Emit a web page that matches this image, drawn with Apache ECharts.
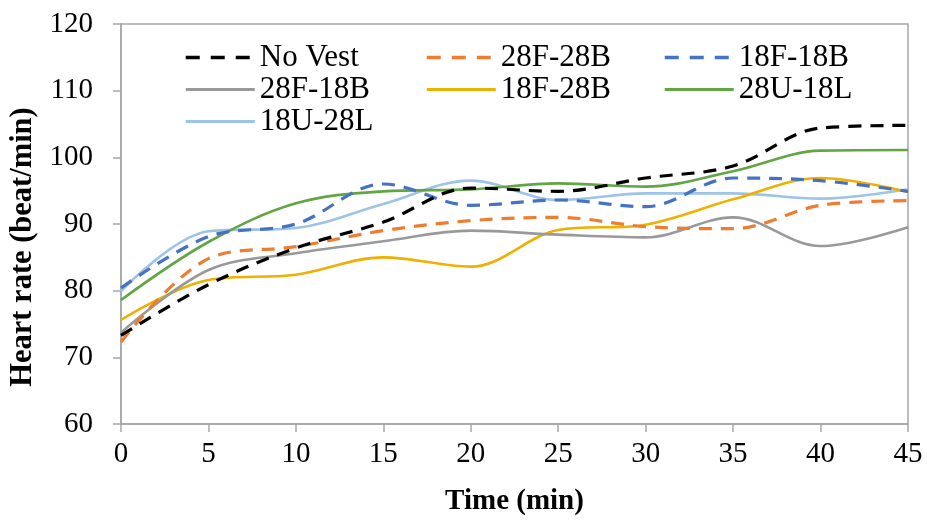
<!DOCTYPE html>
<html>
<head>
<meta charset="utf-8">
<script src="https://cdn.jsdelivr.net/npm/echarts@6/dist/echarts.min.js"></script>
<style>html,body{margin:0;padding:0;background:#fff;}#c{width:927px;height:520px;}</style>
</head>
<body>
<div id="c"></div>
<script>
var times = [0, 5, 10, 15, 20, 25, 30, 35, 40, 45];
var noVest = [73.3, 80.9, 86.4, 90.3, 95.4, 94.9, 96.9, 98.7, 104.4, 104.8];
var f28b28 = [72.3, 84.8, 86.6, 89.0, 90.5, 91.0, 89.6, 89.3, 92.8, 93.5];
var f18b18 = [80.4, 88.1, 90.0, 96.0, 92.8, 93.6, 92.6, 96.9, 96.5, 94.9];
var f28b18 = [73.7, 83.1, 85.6, 87.4, 89.0, 88.4, 88.0, 91.0, 86.7, 89.5];
var f18b28 = [75.6, 81.6, 82.4, 85.0, 83.6, 89.1, 89.9, 93.7, 96.9, 94.8];
var u28l18 = [78.6, 87.3, 93.1, 94.9, 95.2, 96.1, 95.6, 97.9, 101.0, 101.1];
var u18l28 = [79.9, 88.9, 89.4, 93.0, 96.5, 93.6, 94.6, 94.6, 93.8, 95.2];
var seriesNames = ['No Vest', '28F-28B', '18F-18B', '28F-18B', '18F-28B', '28U-18L', '18U-28L'];
var yTicks = [60, 70, 80, 90, 100, 110, 120];

var values = [noVest, f28b28, f18b18, f28b18, f18b28, u28l18, u18l28];
var colors = ['#000000', '#ED7D31', '#4472C4', '#999999', '#F0B000', '#62A544', '#9DC3E6'];
var dashed = [true, true, true, false, false, false, false];

function pairs(v) { return times.map(function (t, i) { return [t, v[i]]; }); }
function lw(i) { return dashed[i] ? 3.2 : 2.6; }

var font = '"Liberation Serif", "Times New Roman", serif';
var series = values.map(function (v, i) {
  return {
    name: seriesNames[i],
    type: 'line',
    data: pairs(v),
    smooth: 0.35,
    showSymbol: false,
    symbol: 'none',
    z: 10 - i,
    lineStyle: { color: colors[i], width: lw(i), type: dashed[i] ? [13, 9] : 'solid', cap: 'butt' },
    itemStyle: { color: colors[i] }
  };
});

function legend(idx, left) {
  return {
    orient: 'vertical', left: left, top: 37, itemWidth: 69, itemHeight: 14, itemGap: 1,
    data: idx.map(function (i) {
      return { name: seriesNames[i], lineStyle: { width: lw(i) + 0.3, type: dashed[i] ? [14, 11] : 'solid', cap: 'butt' } };
    }),
    itemStyle: { opacity: 0 },
    textStyle: { fontFamily: font, fontSize: 31, color: '#000', lineHeight: 31 }
  };
}

var chart = echarts.init(document.getElementById('c'), null, { renderer: 'canvas' });
chart.setOption({
  animation: false,
  backgroundColor: '#fff',
  grid: { left: 121, right: 19, top: 24, bottom: 96, show: true, borderColor: '#A6A6A6', borderWidth: 1.5,
          containLabel: false, outerBoundsMode: 'none' },
  legend: [
    legend([0, 3, 6], 179),
    legend([1, 4], 420),
    legend([2, 5], 658)
  ],
  xAxis: {
    type: 'value', min: 0, max: 45, interval: 5,
    name: 'Time (min)', nameLocation: 'middle', nameGap: 63,
    nameTextStyle: { fontFamily: font, fontSize: 29, fontWeight: 'bold', color: '#000' },
    axisLine: { show: true, lineStyle: { color: '#A6A6A6', width: 1.5 } },
    axisTick: { show: true, length: 8, lineStyle: { color: '#A6A6A6', width: 1.5 } },
    axisLabel: { fontFamily: font, fontSize: 29, color: '#000', margin: 16 },
    splitLine: { show: false }
  },
  yAxis: {
    type: 'value', min: 60, max: 120, interval: 10,
    name: 'Heart rate (beat/min)', nameLocation: 'middle', nameGap: 80,
    nameTextStyle: { fontFamily: font, fontSize: 30.5, fontWeight: 'bold', color: '#000', padding: [0, 46, 0, 0] },
    axisLine: { show: true, lineStyle: { color: '#A6A6A6', width: 1.5 } },
    axisTick: { show: true, length: 8, lineStyle: { color: '#A6A6A6', width: 1.5 } },
    axisLabel: { fontFamily: font, fontSize: 29, color: '#000', margin: 28,
      formatter: function (v) { return yTicks.indexOf(v) >= 0 ? String(v) : ''; } },
    splitLine: { show: false }
  },
  series: series
});
</script>
</body>
</html>
